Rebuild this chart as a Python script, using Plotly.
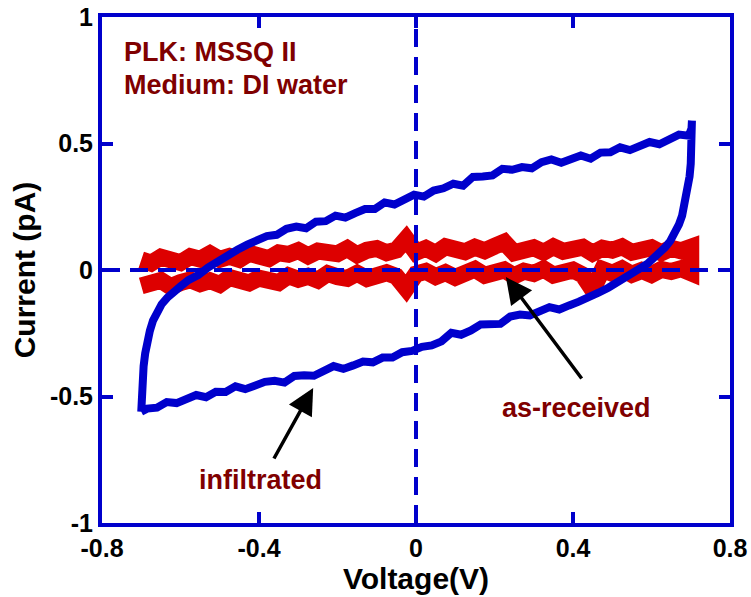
import plotly.graph_objects as go

# ---------------- data ----------------
# infiltrated: forward sweep (-0.7 V -> +0.7 V)
inf_fwd_v = [-0.700, -0.699, -0.697, -0.694, -0.690, -0.685, -0.678, -0.670, -0.660, -0.648,
             -0.634, -0.618, -0.600, -0.580, -0.555, -0.530, -0.505, -0.480, -0.455, -0.430,
             -0.405, -0.380, -0.355, -0.330, -0.305, -0.280, -0.255, -0.230, -0.205, -0.180,
             -0.155, -0.130, -0.105, -0.080, -0.055, -0.030, -0.005, 0.020, 0.045, 0.070,
             0.095, 0.120, 0.145, 0.170, 0.195, 0.220, 0.245, 0.270, 0.295, 0.320,
             0.345, 0.370, 0.395, 0.420, 0.445, 0.470, 0.495, 0.520, 0.545, 0.570,
             0.595, 0.620, 0.645, 0.670, 0.695, 0.702, 0.703]
inf_fwd_i = [-0.560, -0.500, -0.440, -0.380, -0.330, -0.280, -0.240, -0.200, -0.165, -0.135,
             -0.110, -0.085, -0.065, -0.040, -0.020, 0.010, 0.035, 0.060, 0.080, 0.100,
             0.115, 0.134, 0.139, 0.163, 0.172, 0.165, 0.191, 0.193, 0.215, 0.207,
             0.225, 0.241, 0.241, 0.267, 0.259, 0.282, 0.298, 0.290, 0.314, 0.323,
             0.341, 0.333, 0.368, 0.370, 0.374, 0.400, 0.396, 0.407, 0.402, 0.426,
             0.437, 0.424, 0.438, 0.453, 0.440, 0.464, 0.465, 0.485, 0.474, 0.486,
             0.506, 0.497, 0.517, 0.535, 0.531, 0.560, 0.590]

# infiltrated: reverse sweep (+0.7 V -> -0.7 V)
inf_rev_v = [0.703, 0.702, 0.700, 0.697, 0.693, 0.689, 0.684, 0.678, 0.670, 0.660,
             0.648, 0.635, 0.620, 0.605, 0.590, 0.575, 0.555, 0.535, 0.512, 0.490,
             0.465, 0.440, 0.415, 0.390, 0.365, 0.340, 0.315, 0.290, 0.265, 0.240,
             0.215, 0.190, 0.165, 0.140, 0.115, 0.090, 0.065, 0.040, 0.015, -0.010,
             -0.035, -0.060, -0.085, -0.110, -0.135, -0.160, -0.185, -0.210, -0.235, -0.260,
             -0.285, -0.310, -0.335, -0.360, -0.385, -0.410, -0.435, -0.460, -0.485, -0.510,
             -0.535, -0.560, -0.585, -0.610, -0.635, -0.660, -0.685, -0.700]
inf_rev_i = [0.560, 0.480, 0.420, 0.370, 0.330, 0.290, 0.250, 0.215, 0.180, 0.145,
             0.115, 0.090, 0.065, 0.045, 0.025, 0.010, -0.010, -0.030, -0.050, -0.070,
             -0.090, -0.110, -0.125, -0.140, -0.156, -0.147, -0.165, -0.180, -0.176, -0.184,
             -0.213, -0.213, -0.215, -0.239, -0.256, -0.248, -0.282, -0.298, -0.304, -0.320,
             -0.325, -0.346, -0.346, -0.365, -0.362, -0.377, -0.391, -0.380, -0.400, -0.418,
             -0.416, -0.419, -0.445, -0.438, -0.442, -0.459, -0.471, -0.460, -0.482, -0.481,
             -0.503, -0.494, -0.510, -0.526, -0.522, -0.544, -0.548, -0.560]

# as-received: voltage grid of the sweep and the two current traces
asr_v = [round(-0.7 + 0.025 * k, 3) for k in range(57)]
asr_fwd_i = [0.040, 0.027, 0.051, 0.041, 0.029, 0.053, 0.043, 0.064, 0.042, 0.054,
             0.042, 0.066, 0.062, 0.045, 0.068, 0.062, 0.077, 0.056, 0.075, 0.068,
             0.064, 0.085, 0.060, 0.078, 0.085, 0.068, 0.079, 0.123, 0.070, 0.086,
             0.066, 0.092, 0.080, 0.072, 0.090, 0.076, 0.094, 0.110, 0.068, 0.082,
             0.088, 0.070, 0.092, 0.074, 0.080, 0.090, 0.066, 0.086, 0.078, 0.092,
             0.070, 0.084, 0.088, 0.068, 0.086, 0.076, 0.090]
asr_rev_i = [-0.063, -0.048, -0.041, -0.066, -0.050, -0.039, -0.054, -0.042, -0.057, -0.030,
             -0.045, -0.051, -0.032, -0.036, -0.050, -0.023, -0.037, -0.025, -0.040, -0.014,
             -0.027, -0.033, -0.013, -0.034, -0.016, -0.011, -0.025, -0.073, -0.016, -0.005,
             -0.026, -0.010, -0.029, -0.010, 0.003, -0.021, -0.012, 0.000, -0.023, -0.005,
             -0.014, 0.004, -0.020, -0.007, 0.000, -0.020, -0.078, 0.002, -0.013, 0.005,
             -0.017, -0.002, -0.018, 0.002, -0.006, 0.005, -0.011]

x_ticks = [-0.8, -0.4, 0, 0.4, 0.8]
x_tick_text = ["-0.8", "-0.4", "0", "0.4", "0.8"]
y_ticks = [-1, -0.5, 0, 0.5, 1]
y_tick_text = ["-1", "-0.5", "0", "0.5", "1"]

# ---------------- styling ----------------
BLUE = "#0000CC"
RED = "#DD0000"
DARKRED = "#7F0000"
FONT = "Liberation Sans, Arial, sans-serif"

fig = go.Figure()

fig.add_trace(go.Scatter(
    x=asr_v + asr_v[::-1], y=asr_fwd_i + asr_rev_i[::-1],
    mode="lines", line=dict(color=RED, width=17), showlegend=False))

fig.add_trace(go.Scatter(
    x=inf_fwd_v + inf_rev_v, y=inf_fwd_i + inf_rev_i,
    mode="lines", line=dict(color=BLUE, width=8), showlegend=False))

axis_common = dict(
    showline=True, linecolor=BLUE, linewidth=4, mirror="ticks",
    ticks="inside", ticklen=11, tickwidth=4, tickcolor=BLUE,
    showgrid=False, zeroline=False, automargin=False,
    tickfont=dict(family=FONT, size=25, color="black", weight="bold"),
)

fig.update_xaxes(range=[-0.8, 0.8], tickvals=x_ticks, ticktext=x_tick_text,
                 title=dict(text="Voltage(V)", standoff=6,
                            font=dict(family=FONT, size=30, color="black", weight="bold")),
                 **axis_common)
fig.update_yaxes(range=[-1, 1], tickvals=y_ticks, ticktext=y_tick_text,
                 title=dict(text="Current (pA)", standoff=6,
                            font=dict(family=FONT, size=30, color="black", weight="bold")),
                 **axis_common)

dash = "18px,10px"
fig.add_shape(type="line", x0=0, x1=0, y0=-1, y1=1, xref="x", yref="y",
              line=dict(color=BLUE, width=4, dash=dash), layer="above")
fig.add_shape(type="line", x0=-0.8, x1=0.8, y0=0, y1=0, xref="x", yref="y",
              line=dict(color=BLUE, width=4, dash=dash), layer="above")

label_font = dict(family=FONT, size=27, color=DARKRED, weight="bold")
fig.add_annotation(x=-0.75, y=0.862, text="PLK: MSSQ II", showarrow=False,
                   xanchor="left", yanchor="middle", font=label_font)
fig.add_annotation(x=-0.75, y=0.731, text="Medium: DI water", showarrow=False,
                   xanchor="left", yanchor="middle", font=label_font)
fig.add_annotation(x=0.408, y=-0.545, text="as-received", showarrow=False,
                   xanchor="center", yanchor="middle", font=label_font)
fig.add_annotation(x=-0.395, y=-0.83, text="infiltrated", showarrow=False,
                   xanchor="center", yanchor="middle", font=label_font)

# arrows
fig.add_annotation(x=0.229, y=-0.028, ax=0.425, ay=-0.435, axref="x", ayref="y",
                   text="", showarrow=True, arrowhead=2, arrowsize=1.5,
                   arrowwidth=3.5, arrowcolor="black")
fig.add_annotation(x=-0.262, y=-0.466, ax=-0.364, ay=-0.751, axref="x", ayref="y",
                   text="", showarrow=True, arrowhead=2, arrowsize=1.5,
                   arrowwidth=3.5, arrowcolor="black")

fig.update_layout(
    width=751, height=597,
    margin=dict(l=102, r=21, t=17, b=74),
    paper_bgcolor="white", plot_bgcolor="white",
    showlegend=False,
)

fig.write_html("out.html")
